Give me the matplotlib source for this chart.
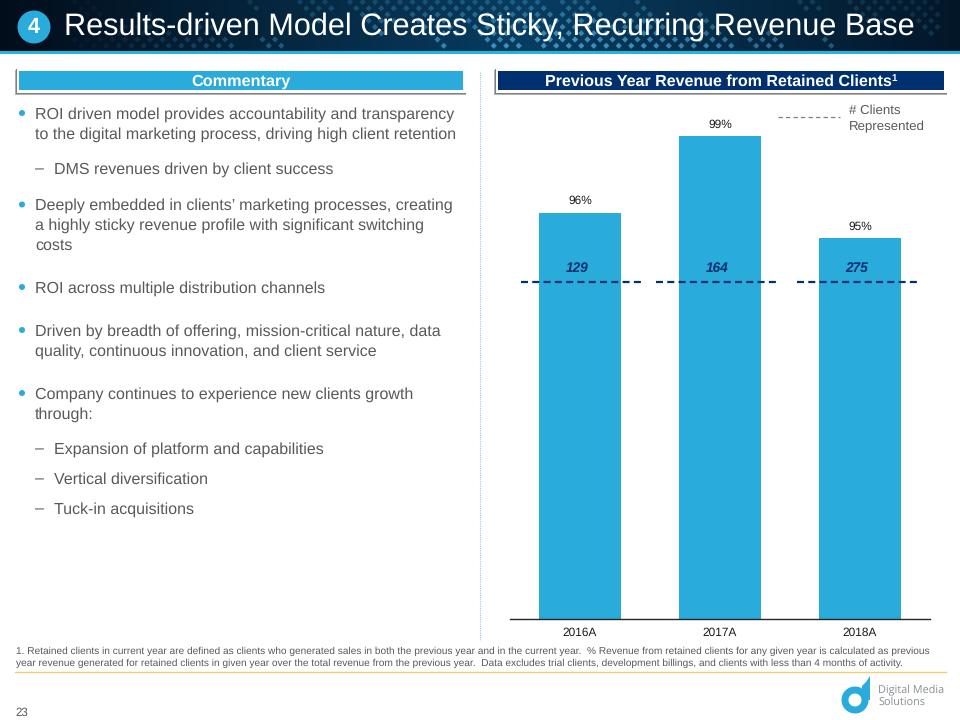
import numpy as np
import matplotlib
matplotlib.use("Agg")
import matplotlib.pyplot as plt
from matplotlib.patches import Circle, Rectangle, Wedge, Polygon

plt.rcParams['font.family'] = ['Liberation Sans', 'DejaVu Sans']
plt.rcParams['text.hinting'] = 'none'

# chart values
years = ["2016A", "2017A", "2018A"]
retained_pct = [96, 99, 95]
clients = [129, 164, 275]

title = "Results-driven Model Creates Sticky, Recurring Revenue Base"
# (text, y pixel of first line, level)
commentary = [
    ("ROI driven model provides accountability and transparency\nto the digital marketing process, driving high client retention", 113, 0),
    ("DMS revenues driven by client success", 168, 1),
    ("Deeply embedded in clients\u2019 marketing processes, creating\na highly sticky revenue profile with significant switching\ncosts", 204.5, 0),
    ("ROI across multiple distribution channels", 287, 0),
    ("Driven by breadth of offering, mission-critical nature, data\nquality, continuous innovation, and client service", 330, 0),
    ("Company continues to experience new clients growth\nthrough:", 393, 0),
    ("Expansion of platform and capabilities", 448, 1),
    ("Vertical diversification", 478, 1),
    ("Tuck-in acquisitions", 508, 1),
]
footnote = ["1. Retained clients in current year are defined as clients who generated sales in both the previous year and in the current year.  % Revenue from retained clients for any given year is calculated as previous",
            "year revenue generated for retained clients in given year over the total revenue from the previous year.  Data excludes trial clients, development billings, and clients with less than 4 months of activity."]

BLUE = "#29ABDC"
NAVY = "#003070"
GREY = "#595959"

fig = plt.figure(figsize=(9.6, 7.2), dpi=100)

# page layer in pixels, y going down
page = fig.add_axes([0, 0, 1, 1])
page.set_xlim(0, 960)
page.set_ylim(720, 0)
page.axis("off")

# header background
grad = np.linspace(0, 1, 256)
edge = np.abs(grad - 0.55) * 2
header = np.zeros((1, 256, 3))
header[0, :, 0] = 0.01 + 0.02 * (1 - edge)
header[0, :, 1] = 0.07 + 0.17 * (1 - edge)
header[0, :, 2] = 0.13 + 0.25 * (1 - edge)
page.imshow(header, extent=[0, 960, 51, 0], aspect="auto", zorder=0)
page.set_xlim(0, 960)
page.set_ylim(720, 0)

# diamond texture, a diagonal lattice with clusters that fade toward the corners
px, py, pa = [], [], []
for i in range(0, 80):
    for j in range(0, 8):
        x = i * 12.5 + (j % 2) * 6.25
        y = 2 + j * 6.25
        if ((i + j // 2) // 3 + 5 * ((i - j // 2) // 4)) % 7 < 4 and 70 < x < 940:
            fade = max(0, 1 - abs(x - 560) / 470)
            px.append(x)
            py.append(y)
            pa.append((0.28, 0.62, 0.80, min(0.85, 0.05 + 0.8 * fade * (0.4 + y / 60))))
page.scatter(px, py, marker="D", s=10, c=pa, linewidths=0, zorder=1)

page.add_patch(Rectangle((0, 51), 960, 3, color="#22B5E2", lw=0, zorder=2))

# title with the numbered badge
page.add_patch(Circle((34, 27), 16.5, color=BLUE, lw=0, zorder=3))
page.text(34, 27.5, "4", color="white", fontsize=15.5, fontweight="bold", ha="center", va="center", zorder=4)
page.text(64, 27, title, color="white", fontsize=22.07, ha="left", va="center", zorder=4)


def panel_head(x0, x1, color):
    page.add_patch(Rectangle((x0 - 4, 70), x1 - x0 + 7, 25, color="#B0B0B0", lw=0, zorder=2))
    page.add_patch(Rectangle((x0 - 3, 69), x1 - x0 + 6, 24.5, color="#808080", lw=0, zorder=2))
    page.add_patch(Rectangle((x0 - 2, 69), x1 - x0 + 5, 23.5, color="white", lw=0, zorder=3))
    page.add_patch(Rectangle((x0, 71), x1 - x0, 19, color=color, lw=0, zorder=4))


panel_head(19, 463, BLUE)
page.text(241, 86, "Commentary", color="white", fontsize=11.7, fontweight="bold", ha="center", va="baseline", zorder=5)
panel_head(498, 944, NAVY)
page.text(545, 86, "Previous Year Revenue from Retained Clients", color="white", fontsize=11.5, fontweight="bold",
          va="baseline", zorder=5)
page.text(891.5, 81, "1", color="white", fontsize=7.0, fontweight="bold", va="baseline", zorder=5)

# commentary bullets
for text, y, level in commentary:
    if level == 0:
        page.add_patch(Circle((22, y), 3, color=BLUE, lw=0))
        for n, line in enumerate(text.split("\n")):
            page.text(35, y + 5.5 + n * 20, line, color=GREY, fontsize=11.55, va="baseline")
    else:
        page.text(35, y + 5.5, "\u2013", color=GREY, fontsize=11.55, va="baseline")
        page.text(54, y + 5.5, text, color=GREY, fontsize=11.55, va="baseline")

# dotted separator between the panels
page.plot([480, 480], [72, 640], color="#8CCDE8", lw=0.8, ls=(0, (1, 1)))

# footnote and rule
for i, line in enumerate(footnote):
    page.text(16, 653.5 + i * 12.5, line, color=GREY, fontsize=7.32, va="baseline")
page.plot([15, 946], [672, 672], color="#F3CE74", lw=1.0)
page.text(15, 716, "23", color=GREY, fontsize=8.3, va="baseline")

# logo
page.add_patch(Wedge((855, 700), 13.5, 0, 360, width=7, color=BLUE, lw=0))
page.add_patch(Polygon([[862, 700], [862, 686], [866, 682], [870, 676], [870, 700]], color=BLUE, lw=0))
page.text(878, 693.5, "Digital Media", color="#8A8F93", fontsize=7.8, va="baseline", family="Open Sans")
page.text(878, 705, "Solutions", color="#8A8F93", fontsize=7.8, va="baseline", family="Open Sans")

# legend key for the client line
page.plot([778, 840], [117, 117], color="#7F7F7F", lw=0.9, ls=(0, (3.5, 2.5)))
page.text(849, 114, "# Clients", color=GREY, fontsize=9.5, va="baseline")
page.text(849, 130, "Represented", color=GREY, fontsize=9.5, va="baseline")

# bar chart, placed on the same pixel grid as the reference
left, right, top, bottom = 510, 930, 100, 619
ax = fig.add_axes([left / 960, 1 - bottom / 720, (right - left) / 960, (bottom - top) / 720])
ax.patch.set_alpha(0)
bars = ax.bar(range(len(years)), retained_pct, width=0.586, color=BLUE, zorder=2)
ax.set_xlim(-0.5, 2.5)
ax.set_ylim(80, 100.43)
ax.set_yticks([])
ax.set_xticks(range(len(years)))
ax.set_xticklabels(years, fontsize=8.6, color="#1A1A1A")
ax.tick_params(axis="x", length=0, pad=6)
for side in ["top", "left", "right"]:
    ax.spines[side].set_visible(False)
ax.spines["bottom"].set_color("#262626")
ax.spines["bottom"].set_linewidth(1.0)

for i, val in enumerate(retained_pct):
    ax.annotate("%d%%" % val, (i, val), xytext=(0, 6), textcoords="offset pixels",
                ha="center", va="bottom", fontsize=8.6, color="#1A1A1A")

# client counts sit on a dashed line across each bar
line_y = 80 + (619 - 282) / 25.4
line_spans = [(-0.42, 0.437), (-0.457, 0.4), (-0.45, 0.407)]
for i, n in enumerate(clients):
    ax.plot([i + line_spans[i][0], i + line_spans[i][1]], [line_y, line_y], color=NAVY, lw=1.6,
            ls=(0, (3.15, 1.93)), dash_capstyle="butt", zorder=3)
    ax.annotate(str(n), (i, line_y), xytext=(-3, 14), textcoords="offset pixels", ha="center", va="center",
                fontsize=9.8, fontweight="bold", fontstyle="italic", color=NAVY, zorder=4)

fig.savefig("out.png", dpi=100)
